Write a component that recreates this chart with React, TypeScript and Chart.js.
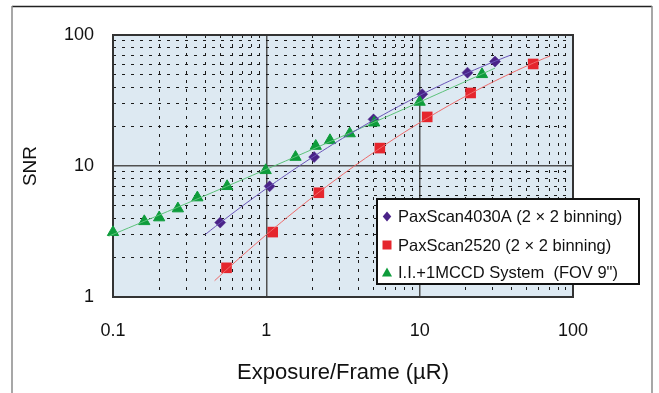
import React, { useEffect, useRef } from 'react';
import { Chart, registerables } from 'chart.js';

Chart.register(...registerables);

// ---- data ----
const pax4030X = [0.5, 1.05, 2.05, 5.0, 10.4, 20.5, 31];
const pax4030Y = [3.7, 7.0, 11.7, 22.7, 35.3, 51.6, 62.7];
const pax2520X = [0.55, 1.1, 2.2, 5.5, 11.2, 21.5, 55];
const pax2520Y = [1.67, 3.13, 6.25, 13.7, 23.7, 36.1, 60.1];
const iiX = [0.1, 0.16, 0.2, 0.265, 0.355, 0.555, 0.99, 1.55, 2.1, 2.6, 3.5, 5.05, 10, 25.5];
const iiY = [3.12, 3.78, 4.04, 4.73, 5.74, 7.0, 9.27, 11.7, 14.2, 15.7, 17.7, 21.4, 30.8, 50.1];

// trendline extents (x range of each fitted line)
const trend4030Range = [0.4, 39];
const trend2520Range = [0.46, 71];
const trendIIRange = [0.085, 31];

const seriesNames = [
  'PaxScan4030A (2 \u00d7 2 binning)',
  'PaxScan2520 (2 \u00d7 2 binning)',
  'I.I.+1MCCD System  (FOV 9")',
];

const xTickLabels = ['0.1', '1', '10', '100'];
const yTickLabels = ['1', '10', '100'];
const minorSteps = [1, 2, 3, 4, 5, 6, 7, 8, 9];

const xTitle = 'Exposure/Frame (\u00b5R)';
const yTitle = 'SNR';

// ---- helpers ----
function decadeTicks(labels: string[]) {
  const out: number[] = [];
  const decs = labels.map(Number);
  for (let i = 0; i < decs.length - 1; i++) {
    for (const m of minorSteps) out.push(Number((m * decs[i]).toPrecision(4)));
  }
  out.push(decs[decs.length - 1]);
  return out;
}

function fitQuadLogLog(xs: number[], ys: number[]) {
  const u = xs.map((v) => Math.log10(v));
  const w = ys.map((v) => Math.log10(v));
  let s0 = 0, s1 = 0, s2 = 0, s3 = 0, s4 = 0, t0 = 0, t1 = 0, t2 = 0;
  for (let i = 0; i < u.length; i++) {
    const a = u[i], b = w[i];
    s0 += 1; s1 += a; s2 += a * a; s3 += a * a * a; s4 += a * a * a * a;
    t0 += b; t1 += a * b; t2 += a * a * b;
  }
  const M = [
    [s0, s1, s2, t0],
    [s1, s2, s3, t1],
    [s2, s3, s4, t2],
  ];
  for (let c = 0; c < 3; c++) {
    let p = c;
    for (let r = c + 1; r < 3; r++) if (Math.abs(M[r][c]) > Math.abs(M[p][c])) p = r;
    [M[c], M[p]] = [M[p], M[c]];
    for (let r = 0; r < 3; r++) {
      if (r === c) continue;
      const f = M[r][c] / M[c][c];
      for (let k = c; k < 4; k++) M[r][k] -= f * M[c][k];
    }
  }
  const coef = [M[0][3] / M[0][0], M[1][3] / M[1][1], M[2][3] / M[2][2]];
  return (x: number) => {
    const l = Math.log10(x);
    return Math.pow(10, coef[0] + coef[1] * l + coef[2] * l * l);
  };
}

function trendPoints(xs: number[], ys: number[], range: number[]) {
  const f = fitQuadLogLog(xs, ys);
  const pts: { x: number; y: number }[] = [];
  const n = 60;
  const a = Math.log10(range[0]), b = Math.log10(range[1]);
  for (let i = 0; i <= n; i++) {
    const x = Math.pow(10, a + ((b - a) * i) / n);
    pts.push({ x, y: f(x) });
  }
  return pts;
}

const zip = (xs: number[], ys: number[]) => xs.map((x, i) => ({ x, y: ys[i] }));

const FONT = "'Liberation Sans', Arial, sans-serif";
const purple = '#4a2388';
const red = '#e5262d';
const green = '#0e9c3b';
const purpleLine = '#6a55b8';
const redLine = '#ef6a6a';
const greenLine = '#5cc27a';

const isDecade = (v: number, labels: string[]) =>
  labels.some((l) => Math.abs(Number(l) - v) < 1e-9 * Math.max(1, v));

const framePlugin = {
  id: 'frameBg',
  beforeDraw(chart: any) {
    const { ctx, chartArea: a } = chart;
    ctx.save();
    ctx.fillStyle = '#ffffff';
    ctx.fillRect(0, 0, chart.width, chart.height);
    ctx.fillStyle = '#dde9f2';
    ctx.fillRect(a.left, a.top, a.right - a.left, a.bottom - a.top);
    // outer figure frame (open at bottom)
    ctx.strokeStyle = '#222';
    ctx.lineWidth = 1.5;
    ctx.beginPath();
    ctx.moveTo(12, 6.5);
    ctx.lineTo(652, 6.5);
    ctx.stroke();
    ctx.strokeStyle = '#8a8a8a';
    ctx.lineWidth = 1.5;
    ctx.beginPath();
    ctx.moveTo(12, 6);
    ctx.lineTo(12, chart.height);
    ctx.moveTo(652, 6);
    ctx.lineTo(652, chart.height);
    ctx.stroke();
    ctx.restore();
  },
  beforeDatasetsDraw(chart: any) {
    const { ctx, chartArea: a } = chart;
    ctx.save();
    ctx.strokeStyle = '#333';
    ctx.lineWidth = 2;
    ctx.strokeRect(a.left, a.top, a.right - a.left, a.bottom - a.top);
    ctx.restore();
  },
};

function drawMarker(ctx: CanvasRenderingContext2D, kind: string, x: number, y: number, r: number, color: string) {
  ctx.fillStyle = color;
  ctx.beginPath();
  if (kind === 'diamond') {
    ctx.moveTo(x, y - r);
    ctx.lineTo(x + r * 0.85, y);
    ctx.lineTo(x, y + r);
    ctx.lineTo(x - r * 0.85, y);
  } else if (kind === 'square') {
    ctx.rect(x - r, y - r, 2 * r, 2 * r);
  } else {
    ctx.moveTo(x, y - r);
    ctx.lineTo(x + r, y + r * 0.8);
    ctx.lineTo(x - r, y + r * 0.8);
  }
  ctx.closePath();
  ctx.fill();
}

const legendPlugin = {
  id: 'boxLegend',
  afterDraw(chart: any) {
    const { ctx } = chart;
    const box = { x: 377, y: 199, w: 262, h: 85 };
    ctx.save();
    ctx.fillStyle = '#ffffff';
    ctx.fillRect(box.x, box.y, box.w, box.h);
    ctx.strokeStyle = '#111';
    ctx.lineWidth = 2;
    ctx.strokeRect(box.x, box.y, box.w, box.h);
    const kinds = ['diamond', 'square', 'triangle'];
    const colors = [purple, red, green];
    const sizes = [5, 4.5, 5];
    const rows = [216.5, 245, 272.5];
    ctx.font = `16.5px ${FONT}`;
    ctx.textBaseline = 'middle';
    ctx.textAlign = 'left';
    seriesNames.forEach((name, i) => {
      drawMarker(ctx, kinds[i], 387, rows[i], sizes[i], colors[i]);
      ctx.fillStyle = '#111';
      ctx.fillText(name, 398, rows[i] + 1);
    });
    ctx.restore();
  },
};

export default function App() {
  const ref = useRef<HTMLCanvasElement | null>(null);

  useEffect(() => {
    if (!ref.current) return;
    const xTicks = decadeTicks(xTickLabels);
    const yTicks = decadeTicks(yTickLabels);

    const gridColor = (labels: string[]) => (c: any) =>
      c.tick && isDecade(c.tick.value, labels) ? '#505050' : '#1a1a1a';
    const gridWidth = (labels: string[]) => (c: any) =>
      c.tick && isDecade(c.tick.value, labels) ? 1.5 : 1;
    const gridDash = (labels: string[]) => (c: any) =>
      c.tick && isDecade(c.tick.value, labels) ? [] : [3, 6];

    const chart = new Chart(ref.current, {
      type: 'scatter',
      data: {
        datasets: [
          {
            type: 'line',
            label: 'trend4030',
            data: trendPoints(pax4030X, pax4030Y, trend4030Range),
            borderColor: purpleLine,
            borderWidth: 1,
            pointRadius: 0,
            fill: false,
            tension: 0,
            clip: false,
          } as any,
          {
            type: 'line',
            label: 'trend2520',
            data: trendPoints(pax2520X, pax2520Y, trend2520Range),
            borderColor: redLine,
            borderWidth: 1,
            pointRadius: 0,
            fill: false,
            tension: 0,
            clip: false,
          } as any,
          {
            type: 'line',
            label: 'trendII',
            data: trendPoints(iiX, iiY, trendIIRange),
            borderColor: greenLine,
            borderWidth: 1,
            pointRadius: 0,
            fill: false,
            tension: 0,
            clip: false,
          } as any,
          {
            label: seriesNames[2],
            data: zip(iiX, iiY),
            pointStyle: 'triangle',
            pointRadius: 6.5,
            backgroundColor: green,
            borderColor: green,
            borderWidth: 1,
            clip: false,
          } as any,
          {
            label: seriesNames[1],
            data: zip(pax2520X, pax2520Y),
            pointStyle: 'rect',
            pointRadius: 7.5,
            backgroundColor: red,
            borderColor: red,
            borderWidth: 0,
            clip: false,
          } as any,
          {
            label: seriesNames[0],
            data: zip(pax4030X, pax4030Y),
            pointStyle: 'rectRot',
            pointRadius: 5.5,
            backgroundColor: purple,
            borderColor: purple,
            borderWidth: 0.5,
            clip: false,
          } as any,
        ],
      },
      options: {
        animation: false,
        responsive: false,
        devicePixelRatio: 1,
        events: [],
        layout: { padding: { left: 0, top: 35, right: 86, bottom: 0 } },
        plugins: {
          legend: { display: false },
          tooltip: { enabled: false },
        },
        scales: {
          x: {
            type: 'logarithmic',
            min: 0.1,
            max: 100,
            afterBuildTicks: (s: any) => {
              s.ticks = xTicks.map((v) => ({ value: v, major: false }));
            },
            afterFit: (s: any) => {
              s.height = 96;
            },
            ticks: {
              autoSkip: false,
              maxRotation: 0,
              padding: 23,
              color: '#111',
              font: { family: FONT, size: 18 },
              callback: (v: any) => {
                const n = Number(v);
                const l = xTickLabels.find((t) => Math.abs(Number(t) - n) < 1e-9 * Math.max(1, n));
                return l ?? '';
              },
            },
            grid: {
              drawTicks: false,
              color: gridColor(xTickLabels),
              lineWidth: gridWidth(xTickLabels),
            },
            border: { display: false, dash: gridDash(xTickLabels) },
            title: {
              display: true,
              text: xTitle,
              color: '#111',
              font: { family: FONT, size: 22 },
              padding: { top: 0, bottom: 7 },
            },
          } as any,
          y: {
            type: 'logarithmic',
            min: 1,
            max: 100,
            afterBuildTicks: (s: any) => {
              s.ticks = yTicks.map((v) => ({ value: v, major: false }));
            },
            afterFit: (s: any) => {
              s.width = 113;
            },
            ticks: {
              autoSkip: false,
              padding: 19,
              color: '#111',
              font: { family: FONT, size: 18 },
              callback: (v: any) => {
                const n = Number(v);
                const l = yTickLabels.find((t) => Math.abs(Number(t) - n) < 1e-9 * Math.max(1, n));
                return l ?? '';
              },
            },
            grid: {
              drawTicks: false,
              color: gridColor(yTickLabels),
              lineWidth: gridWidth(yTickLabels),
            },
            border: { display: false, dash: gridDash(yTickLabels) },
            title: {
              display: true,
              text: yTitle,
              color: '#111',
              font: { family: FONT, size: 19 },
              padding: { top: 19, bottom: 0 },
            },
          } as any,
        },
      },
      plugins: [framePlugin, legendPlugin],
    } as any);

    return () => chart.destroy();
  }, []);

  return (
    <div style={{ position: 'absolute', left: 0, top: 0, width: 659, height: 393, background: '#fff' }}>
      <canvas ref={ref} width={659} height={393} style={{ display: 'block', width: 659, height: 393 }} />
    </div>
  );
}
